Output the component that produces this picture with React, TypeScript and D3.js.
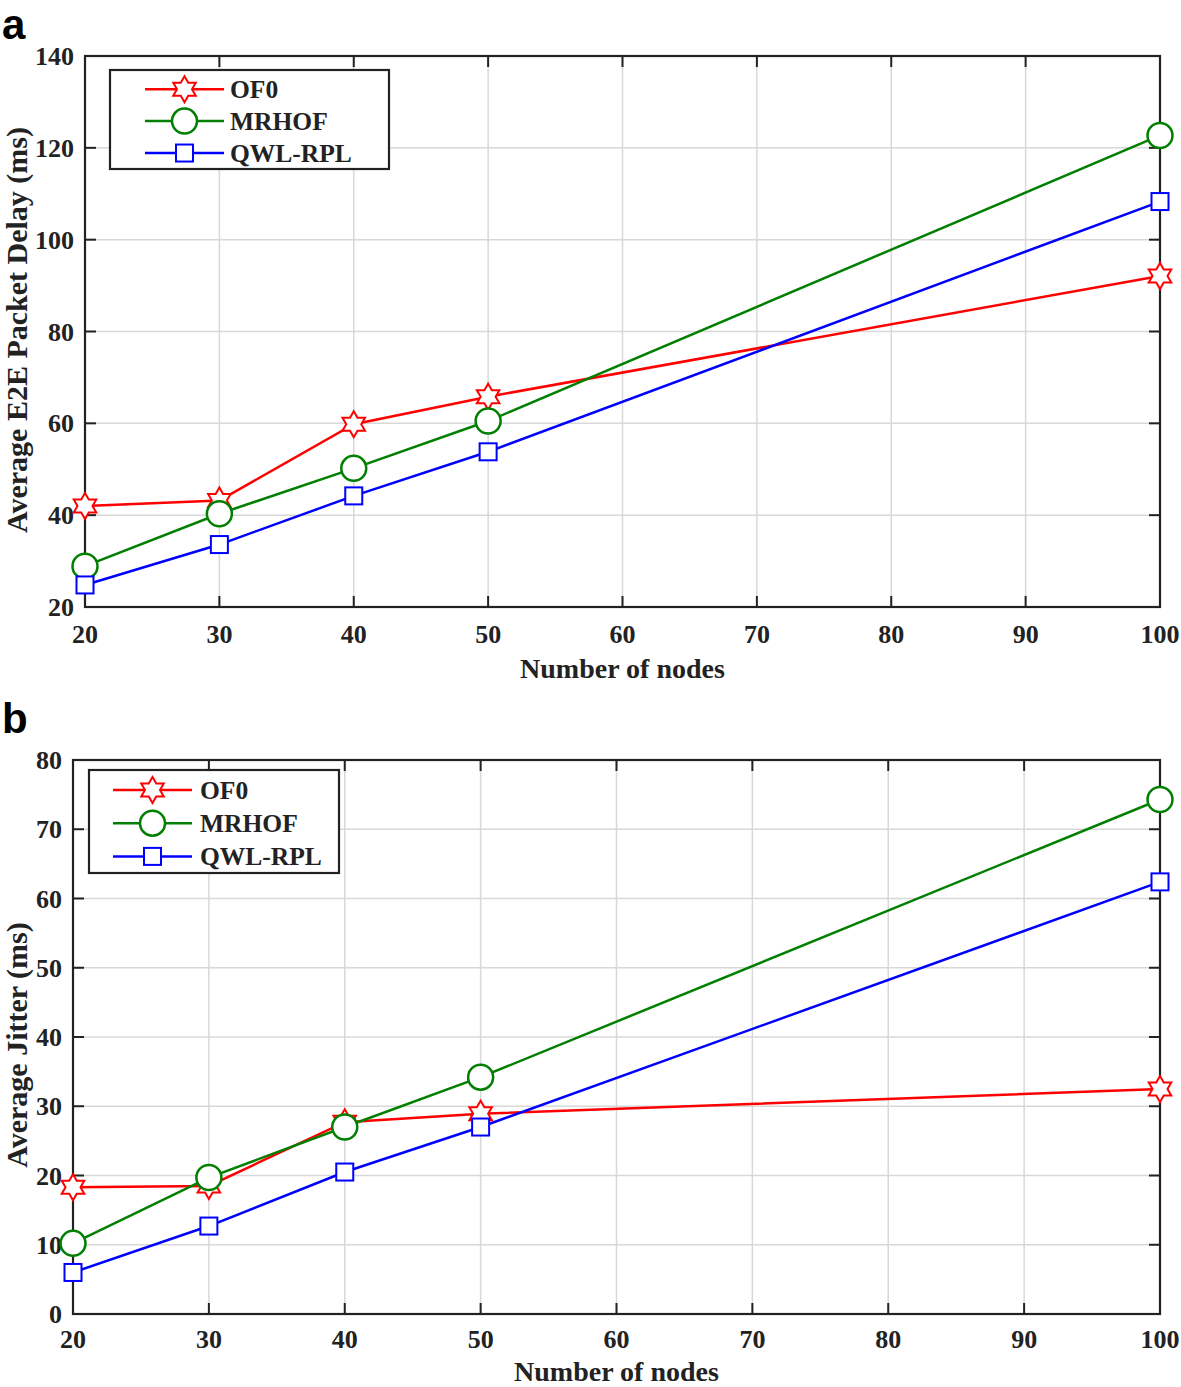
import React from "react";
import * as d3 from "d3";

const nodes = [20, 30, 40, 50, 100];
const xTicks = [20, 30, 40, 50, 60, 70, 80, 90, 100];

const delayOF0 = [42, 43.2, 59.8, 65.8, 92.1];
const delayMRHOF = [28.9, 40.3, 50.2, 60.5, 122.7];
const delayQWL = [24.8, 33.6, 44.2, 53.8, 108.3];
const delayTicks = [20, 40, 60, 80, 100, 120, 140];

const jitterOF0 = [18.3, 18.5, 27.7, 28.9, 32.5];
const jitterMRHOF = [10.2, 19.7, 27.0, 34.2, 74.3];
const jitterQWL = [6.0, 12.7, 20.5, 27.0, 62.4];
const jitterTicks = [0, 10, 20, 30, 40, 50, 60, 70, 80];

const seriesNames = ["OF0", "MRHOF", "QWL-RPL"];
const seriesColors = ["#ff0000", "#007f00", "#0000ff"];
const seriesMarkers = ["hexagram", "circle", "square"];

const FONT = "'Liberation Serif', 'Times New Roman', serif";

function hexagramPath(r: number) {
  const pts: string[] = [];
  const inner = r * 0.577;
  for (let i = 0; i < 12; i++) {
    const a = (Math.PI / 6) * i - Math.PI / 2;
    const rr = i % 2 === 0 ? r : inner;
    pts.push(`${(rr * Math.cos(a)).toFixed(2)},${(rr * Math.sin(a)).toFixed(2)}`);
  }
  return "M" + pts.join("L") + "Z";
}

function Marker({ type, x, y, color }: { type: string; x: number; y: number; color: string }) {
  if (type === "circle")
    return <circle cx={x} cy={y} r={12.5} fill="#fff" stroke={color} strokeWidth={2.5} />;
  if (type === "square")
    return <rect x={x - 8.5} y={y - 8.5} width={17} height={17} fill="#fff" stroke={color} strokeWidth={2} />;
  return <path d={hexagramPath(13)} transform={`translate(${x},${y})`} fill="#fff" stroke={color} strokeWidth={2} />;
}

type PanelProps = {
  letter: string;
  left: number;
  right: number;
  yTop: number;
  yBottom: number;
  yDomain: [number, number];
  yTicks: number[];
  data: number[][];
  yLabel: string;
  yLabelCenter: number;
  yLabelSize: number;
  xLabelY: number;
  xTickY: number;
  legend: { x: number; y: number; w: number; h: number; lineOff: number; textOff: number };
  letterY: number;
};

function Panel(p: PanelProps) {
  const x = d3.scaleLinear().domain([20, 100]).range([p.left, p.right]);
  const y = d3.scaleLinear().domain(p.yDomain).range([p.yBottom, p.yTop]);
  const line = d3
    .line<number>()
    .x((_, i) => x(nodes[i]))
    .y((d) => y(d));
  const tickLen = 11;
  const lg = p.legend;
  const rowH = lg.h / 3.1;
  return (
    <g>
      <text x={2} y={p.letterY} fontFamily="'Liberation Sans', Arial, sans-serif" fontWeight="bold" fontSize={42} fill="#000">
        {p.letter}
      </text>
      {/* grid */}
      {xTicks.slice(1, -1).map((t) => (
        <line key={"gx" + t} x1={x(t)} x2={x(t)} y1={p.yTop} y2={p.yBottom} stroke="#d8d8d8" strokeWidth={1.5} />
      ))}
      {p.yTicks.slice(1, -1).map((t) => (
        <line key={"gy" + t} x1={p.left} x2={p.right} y1={y(t)} y2={y(t)} stroke="#d8d8d8" strokeWidth={1.5} />
      ))}
      {/* ticks */}
      {xTicks.map((t) => (
        <g key={"tx" + t}>
          <line x1={x(t)} x2={x(t)} y1={p.yBottom} y2={p.yBottom - tickLen} stroke="#222" strokeWidth={2} />
          <line x1={x(t)} x2={x(t)} y1={p.yTop} y2={p.yTop + tickLen} stroke="#222" strokeWidth={2} />
          <text x={x(t)} y={p.xTickY} textAnchor="middle" fontFamily={FONT} fontWeight="bold" fontSize={26} fill="#222">
            {t}
          </text>
        </g>
      ))}
      {p.yTicks.map((t) => (
        <g key={"ty" + t}>
          <line x1={p.left} x2={p.left + tickLen} y1={y(t)} y2={y(t)} stroke="#222" strokeWidth={2} />
          <line x1={p.right} x2={p.right - tickLen} y1={y(t)} y2={y(t)} stroke="#222" strokeWidth={2} />
          <text x={p.left - 11} y={y(t) + 9} textAnchor="end" fontFamily={FONT} fontWeight="bold" fontSize={26} fill="#222">
            {t}
          </text>
        </g>
      ))}
      <rect x={p.left} y={p.yTop} width={p.right - p.left} height={p.yBottom - p.yTop} fill="none" stroke="#222" strokeWidth={2.2} />
      {/* series */}
      {p.data.map((vals, si) => (
        <path key={"l" + si} d={line(vals) || ""} fill="none" stroke={seriesColors[si]} strokeWidth={2.5} />
      ))}
      {p.data.map((vals, si) =>
        vals.map((v, i) => (
          <Marker key={"m" + si + "-" + i} type={seriesMarkers[si]} x={x(nodes[i])} y={y(v)} color={seriesColors[si]} />
        ))
      )}
      {/* legend */}
      <rect x={lg.x} y={lg.y} width={lg.w} height={lg.h} fill="#fff" stroke="#222" strokeWidth={2.2} />
      {seriesNames.map((n, si) => {
        const cy = lg.y + rowH * (si + 0.6);
        return (
          <g key={"lg" + n}>
            <line x1={lg.x + lg.lineOff} x2={lg.x + lg.lineOff + 79} y1={cy} y2={cy} stroke={seriesColors[si]} strokeWidth={2.5} />
            <Marker type={seriesMarkers[si]} x={lg.x + lg.lineOff + 39.5} y={cy} color={seriesColors[si]} />
            <text x={lg.x + lg.textOff} y={cy + 9} fontFamily={FONT} fontWeight="bold" fontSize={25.5} fill="#222">
              {n}
            </text>
          </g>
        );
      })}
      {/* axis titles */}
      <text
        x={(p.left + p.right) / 2}
        y={p.xLabelY}
        textAnchor="middle"
        fontFamily={FONT}
        fontWeight="bold"
        fontSize={28}
        fill="#222"
      >
        Number of nodes
      </text>
      <text
        transform={`translate(27,${p.yLabelCenter}) rotate(-90)`}
        textAnchor="middle"
        fontFamily={FONT}
        fontWeight="bold"
        fontSize={p.yLabelSize}
        fill="#222"
      >
        {p.yLabel}
      </text>
    </g>
  );
}

export default function App() {
  return (
    <svg width={1181} height={1387} style={{ display: "block", position: "absolute", left: 0, top: 0 }}>
      <rect width={1181} height={1387} fill="#fff" />
      <Panel
        letter="a"
        left={85}
        right={1160}
        yTop={56}
        yBottom={607}
        yDomain={[20, 140]}
        yTicks={delayTicks}
        data={[delayOF0, delayMRHOF, delayQWL]}
        yLabel="Average E2E Packet Delay (ms)"
        yLabelCenter={330}
        yLabelSize={30}
        xLabelY={678}
        xTickY={643}
        legend={{ x: 110, y: 70, w: 279, h: 99, lineOff: 35, textOff: 120 }}
        letterY={39}
      />
      <Panel
        letter="b"
        left={73}
        right={1160}
        yTop={760}
        yBottom={1314}
        yDomain={[0, 80]}
        yTicks={jitterTicks}
        data={[jitterOF0, jitterMRHOF, jitterQWL]}
        yLabel="Average Jitter (ms)"
        yLabelCenter={1045}
        yLabelSize={30}
        xLabelY={1381}
        xTickY={1348}
        legend={{ x: 89, y: 770, w: 250, h: 103, lineOff: 24, textOff: 111 }}
        letterY={733}
      />
    </svg>
  );
}
